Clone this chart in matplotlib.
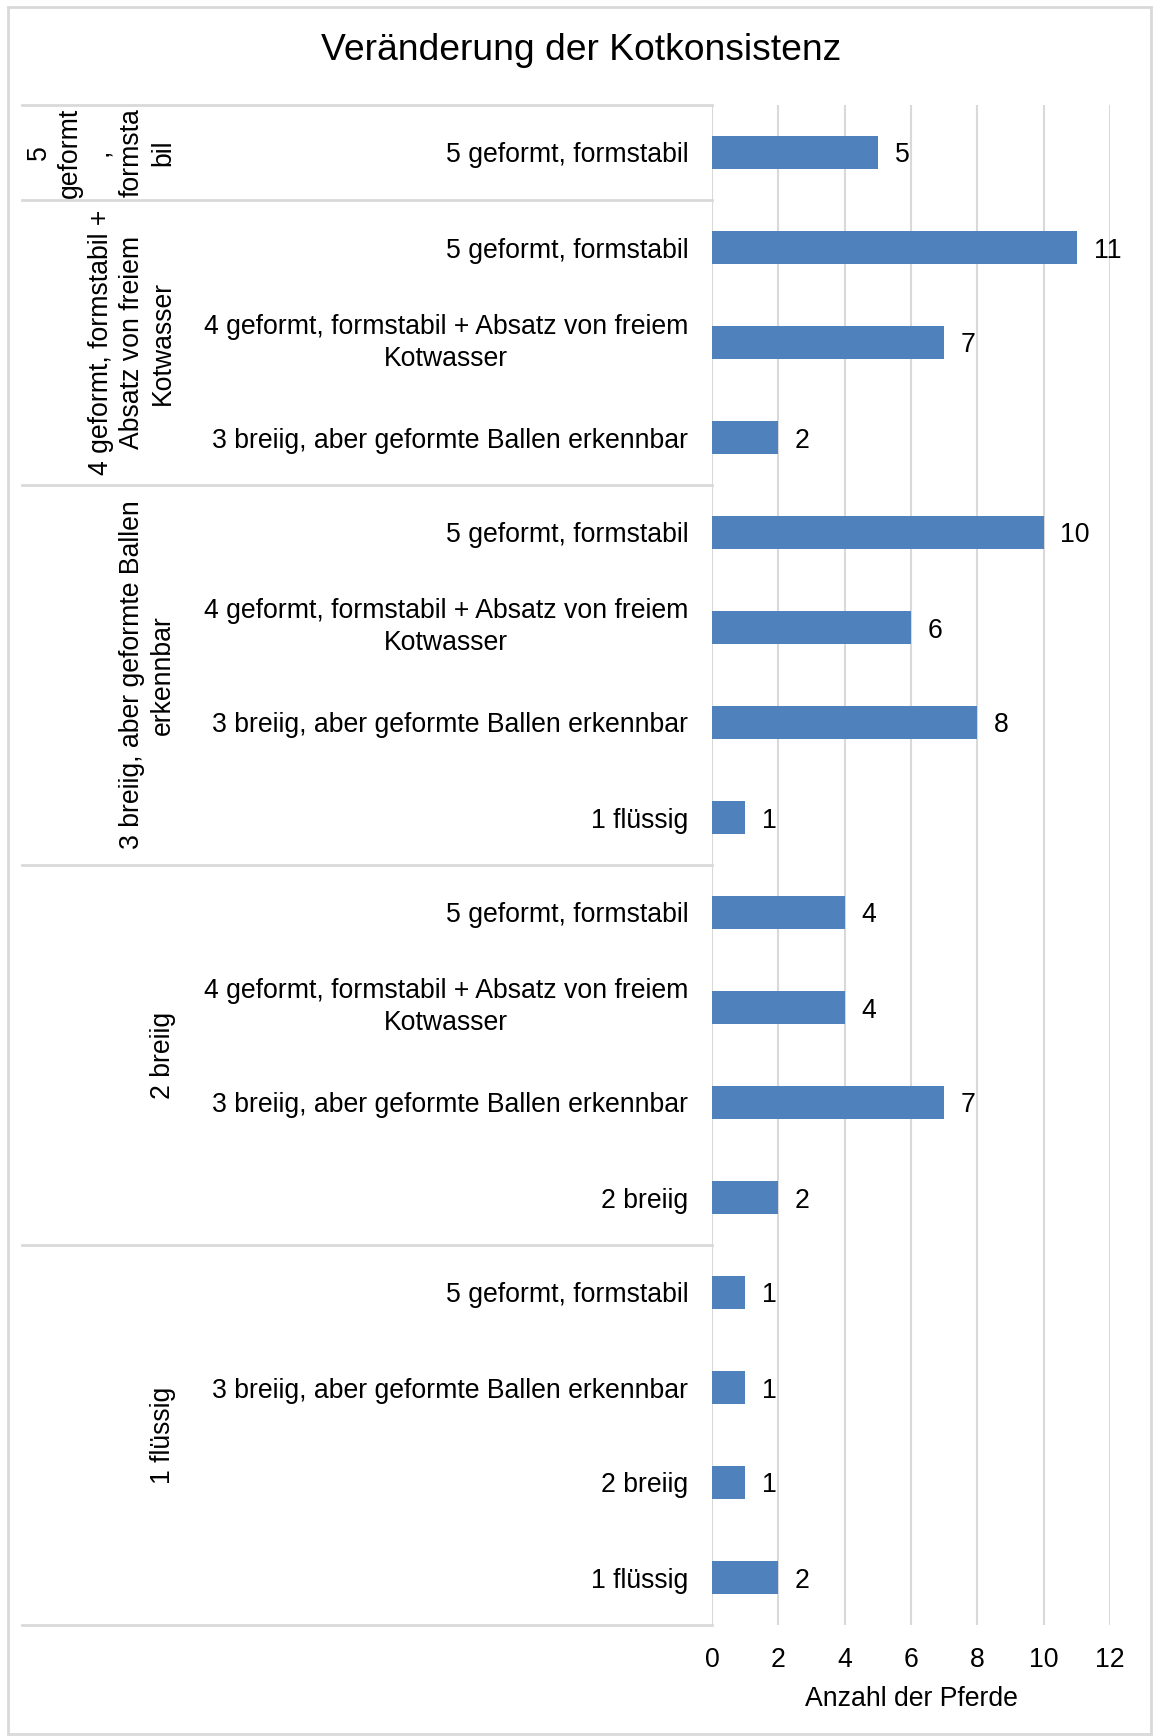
import matplotlib.pyplot as plt
import matplotlib.transforms as mtransforms
from matplotlib.patches import Rectangle

plt.rcParams['font.family'] = ['Liberation Sans', 'DejaVu Sans']

# Gruppen (vorher) und Kategorien (nachher), von oben nach unten
groups = [
    "5\ngeformt\n,\nformsta\nbil",
    "4 geformt, formstabil +\nAbsatz von freiem\nKotwasser",
    "3 breiig, aber geformte Ballen\nerkennbar",
    "2 breiig",
    "1 flüssig",
]
group_sizes = [1, 3, 4, 4, 4]

categories = [
    "5 geformt, formstabil",
    "5 geformt, formstabil",
    "4 geformt, formstabil + Absatz von freiem\nKotwasser",
    "3 breiig, aber geformte Ballen erkennbar",
    "5 geformt, formstabil",
    "4 geformt, formstabil + Absatz von freiem\nKotwasser",
    "3 breiig, aber geformte Ballen erkennbar",
    "1 flüssig",
    "5 geformt, formstabil",
    "4 geformt, formstabil + Absatz von freiem\nKotwasser",
    "3 breiig, aber geformte Ballen erkennbar",
    "2 breiig",
    "5 geformt, formstabil",
    "3 breiig, aber geformte Ballen erkennbar",
    "2 breiig",
    "1 flüssig",
]
values = [5, 11, 7, 2, 10, 6, 8, 1, 4, 4, 7, 2, 1, 1, 1, 2]

FS = 19.2
W, H = 1154, 1736
fig = plt.figure(figsize=(W / 100, H / 100), dpi=100)
ax = fig.add_axes([712 / W, 1 - 1625 / H, 398 / W, 1520 / H])

ypos = list(range(len(values)))
bars = ax.barh(ypos, values, height=0.35, color='#4F81BD', zorder=3)
for y, v in zip(ypos, values):
    ax.annotate(str(v), (v, y), xytext=(12, 0), textcoords='offset points',
                ha='left', va='center_baseline', fontsize=FS)

ax.set_xlim(0, 12)
ax.set_ylim(len(values) - 0.5, -0.5)
ax.set_xticks(range(0, 13, 2))
ax.set_yticks(ypos)
ax.set_yticklabels(categories)
for lbl in ax.get_yticklabels():
    lbl.set_multialignment('center')
    lbl.set_linespacing(1.3)
    if '\n' in lbl.get_text():
        lbl.set_verticalalignment('center')
ax.tick_params(axis='y', length=0, pad=17, labelsize=FS)
ax.tick_params(axis='x', length=0, pad=16, labelsize=FS)
ax.set_xlabel('Anzahl der Pferde', fontsize=FS, labelpad=9)
ax.grid(axis='x', color='#D9D9D9', lw=1.5, zorder=0)
for s in ax.spines.values():
    s.set_visible(False)

# Gruppenbeschriftungen und Trennlinien
trans = mtransforms.blended_transform_factory(fig.transFigure, ax.transData)
start = 0
bounds = [-0.5]
for g, n in zip(groups, group_sizes):
    center = start + (n - 1) / 2
    ax.text(176 / W, center, g, transform=trans, rotation=90, ha='right',
            va='center', multialignment='center', fontsize=FS,
            linespacing=1.25, clip_on=False)
    start += n
    bounds.append(start - 0.5)
for b in bounds:
    ax.plot([22 / W, 712 / W], [b, b], transform=trans, color='#D9D9D9',
            lw=2, clip_on=False)

fig.text(581 / W, 1 - 50 / H, 'Veränderung der Kotkonsistenz', ha='center',
         va='center', fontsize=26.8)

fig.patches.append(Rectangle((8 / W, 2 / H), 1143 / W, 1727 / H,
                             transform=fig.transFigure, fill=False,
                             edgecolor='#D9D9D9', lw=2))

fig.savefig('out.png', dpi=100)
